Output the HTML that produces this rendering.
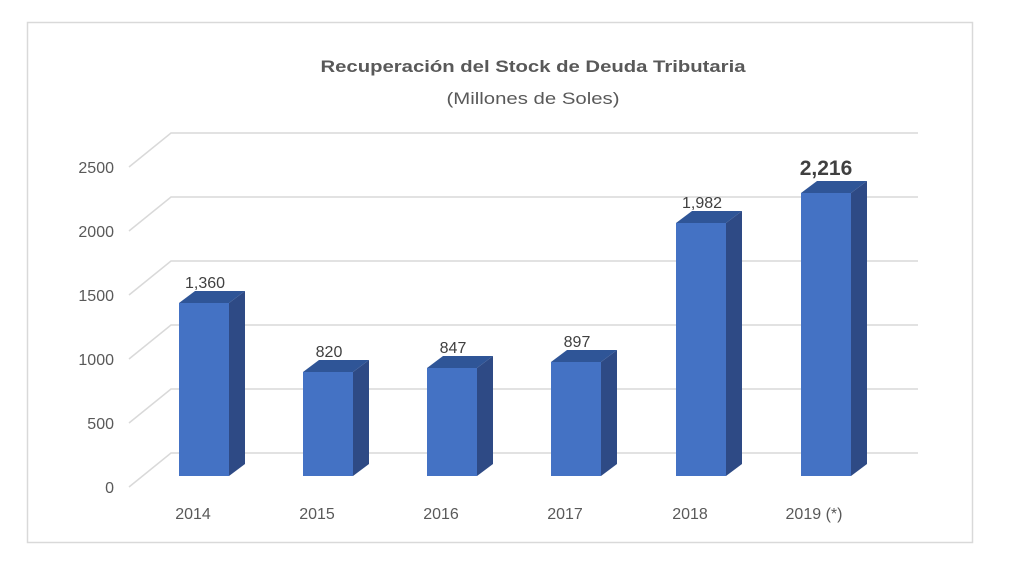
<!DOCTYPE html>
<html><head><meta charset="utf-8"><style>
html,body{margin:0;padding:0;background:#fff;}
svg{display:block;font-family:"Liberation Sans",sans-serif;}
</style></head><body>
<svg width="1024" height="564" viewBox="0 0 1024 564">
<rect x="27.5" y="22.5" width="945" height="520" fill="#fff" stroke="#d9d9d9" stroke-width="1.5"/>
<text x="533" y="72" text-anchor="middle" font-size="17" font-weight="bold" fill="#595959" textLength="425" lengthAdjust="spacingAndGlyphs">Recuperación del Stock de Deuda Tributaria</text>
<text x="533" y="104" text-anchor="middle" font-size="17" fill="#595959" textLength="173" lengthAdjust="spacingAndGlyphs">(Millones de Soles)</text>
<g stroke="#d9d9d9" stroke-width="1.5" fill="none">
<polyline points="129,487 171,453 918,453"/>
<polyline points="129,423 171,389 918,389"/>
<polyline points="129,359 171,325 918,325"/>
<polyline points="129,295 171,261 918,261"/>
<polyline points="129,231 171,197 918,197"/>
<polyline points="129,167 171,133 918,133"/>
</g>
<g font-size="16" fill="#595959" text-anchor="end">
<text x="114" y="493">0</text>
<text x="114" y="429">500</text>
<text x="114" y="365">1000</text>
<text x="114" y="301">1500</text>
<text x="114" y="237">2000</text>
<text x="114" y="173">2500</text>
</g>
<g>
<polygon points="229,303 245,291 245,464 229,476" fill="#2e4a85"/><polygon points="179,303 229,303 245,291 195,291" fill="#2f5597"/><rect x="179" y="303" width="50" height="173" fill="#4472c4"/>
<polygon points="353,372 369,360 369,464 353,476" fill="#2e4a85"/><polygon points="303,372 353,372 369,360 319,360" fill="#2f5597"/><rect x="303" y="372" width="50" height="104" fill="#4472c4"/>
<polygon points="477,368 493,356 493,464 477,476" fill="#2e4a85"/><polygon points="427,368 477,368 493,356 443,356" fill="#2f5597"/><rect x="427" y="368" width="50" height="108" fill="#4472c4"/>
<polygon points="601,362 617,350 617,464 601,476" fill="#2e4a85"/><polygon points="551,362 601,362 617,350 567,350" fill="#2f5597"/><rect x="551" y="362" width="50" height="114" fill="#4472c4"/>
<polygon points="726,223 742,211 742,464 726,476" fill="#2e4a85"/><polygon points="676,223 726,223 742,211 692,211" fill="#2f5597"/><rect x="676" y="223" width="50" height="253" fill="#4472c4"/>
<polygon points="851,193 867,181 867,464 851,476" fill="#2e4a85"/><polygon points="801,193 851,193 867,181 817,181" fill="#2f5597"/><rect x="801" y="193" width="50" height="283" fill="#4472c4"/>
</g>
<g font-size="16" fill="#404040" text-anchor="middle">
<text x="205" y="288">1,360</text>
<text x="329" y="357">820</text>
<text x="453" y="353">847</text>
<text x="577" y="347">897</text>
<text x="702" y="208">1,982</text>
<text x="826" y="175" font-size="21" font-weight="bold">2,216</text>
</g>
<g font-size="16" fill="#595959" text-anchor="middle">
<text x="193" y="519">2014</text>
<text x="317" y="519">2015</text>
<text x="441" y="519">2016</text>
<text x="565" y="519">2017</text>
<text x="690" y="519">2018</text>
<text x="814" y="519">2019 (*)</text>
</g>
</svg>
</body></html>
